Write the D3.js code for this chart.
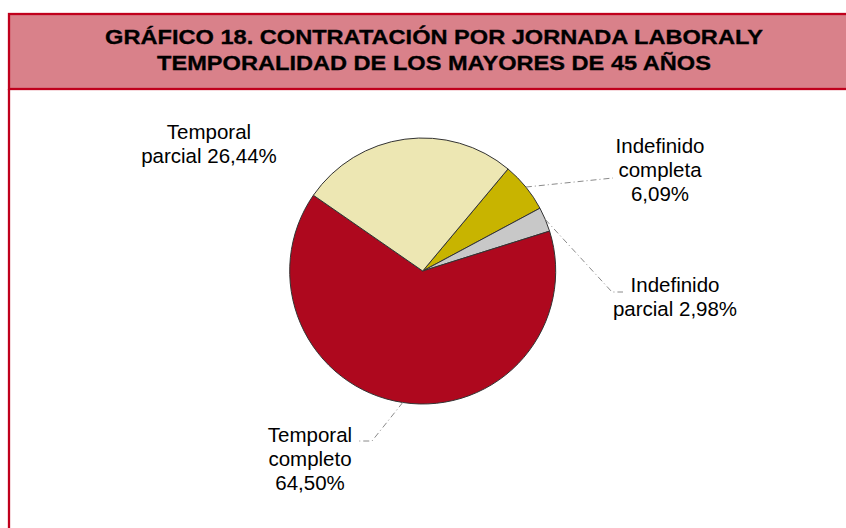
<!DOCTYPE html>
<html>
<head>
<meta charset="utf-8">
<script src="https://cdn.jsdelivr.net/npm/d3@7"></script>
<style>
  body { margin: 0; background: #fff; }
  svg { display: block; }
</style>
</head>
<body>
<div id="chart"></div>
<script>
// data
const categories = ["Indefinido completa", "Indefinido parcial", "Temporal completo", "Temporal parcial"];
const values = [6.09, 2.98, 64.50, 26.44];
const colors = ["#C8B400", "#C8C8C8", "#AE081E", "#EDE7B3"];
const titleLines = ["GRÁFICO 18. CONTRATACIÓN POR JORNADA LABORALY", "TEMPORALIDAD DE LOS MAYORES DE 45 AÑOS"];

// layout
const width = 846, height = 528;
const cx = 422.7, cy = 271, radius = 133;
const startDeg = 39.9;
// words per line of each label
const lineBreaks = [[1, 1, 1], [1, 2], [1, 1, 1], [1, 2]];
// label anchor (centre x, first baseline y)
const labelPos = [[660, 153], [675, 292], [310, 442], [209, 139]];
// leader line bends / ends, null = no leader
const leaders = [
    [[613, 178]],
    [[612, 292], [623, 292]],
    [[372, 441], [359, 441]],
    null
];

const fmt = d3.formatLocale({decimal: ",", thousands: ".", grouping: [3], currency: ["", "€"]}).format(".2f");

const svg = d3.select("#chart")
    .append("svg")
    .attr("width", width)
    .attr("height", height);

// frame + header band
svg.append("rect")
    .attr("x", 9).attr("y", 14)
    .attr("width", 900).attr("height", 75)
    .attr("fill", "#D9818A")
    .attr("stroke", "#C0001C")
    .attr("stroke-width", 2.3);
svg.append("line")
    .attr("x1", 9).attr("x2", 9)
    .attr("y1", 89).attr("y2", 560)
    .attr("stroke", "#C0001C")
    .attr("stroke-width", 2.3);

const title = svg.append("g")
    .attr("transform", "translate(434,0) scale(1.18,1)");
title.selectAll("text")
    .data(titleLines)
    .enter()
    .append("text")
    .attr("x", 0)
    .attr("y", (d, i) => 44.5 + i * 26)
    .attr("text-anchor", "middle")
    .style("font-family", "'Liberation Sans', Arial, sans-serif")
    .style("font-weight", "bold")
    .style("font-size", "20px")
    .attr("fill", "#000")
    .attr("stroke", "#000")
    .attr("stroke-width", 0.3)
    .text(d => d);

// pie
const pie = d3.pie()
    .sort(null)
    .value(d => d)
    .startAngle(startDeg * Math.PI / 180)
    .endAngle(startDeg * Math.PI / 180 + 2 * Math.PI);
const arcs = pie(values);
const arc = d3.arc().innerRadius(0).outerRadius(radius);

const g = svg.append("g").attr("transform", `translate(${cx},${cy})`);
g.selectAll("path")
    .data(arcs)
    .enter()
    .append("path")
    .attr("d", arc)
    .attr("fill", (d, i) => colors[i])
    .attr("stroke", "#333")
    .attr("stroke-width", 1);

// leader lines
arcs.forEach(function(a, i) {
    if (!leaders[i]) return;
    const mid = (a.startAngle + a.endAngle) / 2;
    const pts = [[cx + radius * Math.sin(mid), cy - radius * Math.cos(mid)]].concat(leaders[i]);
    svg.append("path")
        .attr("d", d3.line()(pts))
        .attr("fill", "none")
        .attr("stroke", "#8A8A8A")
        .attr("stroke-width", 1)
        .attr("stroke-dasharray", "6,3,1,3");
});

// labels
categories.forEach(function(cat, i) {
    const words = (cat + " " + fmt(values[i]) + "%").split(" ");
    const lines = [];
    let k = 0;
    lineBreaks[i].forEach(function(n) {
        lines.push(words.slice(k, k + n).join(" "));
        k += n;
    });
    svg.append("text")
        .attr("text-anchor", "middle")
        .style("font-family", "'Liberation Sans', Arial, sans-serif")
        .style("font-size", "20.5px")
        .attr("fill", "#000")
        .selectAll("tspan")
        .data(lines)
        .enter()
        .append("tspan")
        .attr("x", labelPos[i][0])
        .attr("y", (d, j) => labelPos[i][1] + j * 24)
        .text(d => d);
});
</script>
</body>
</html>
